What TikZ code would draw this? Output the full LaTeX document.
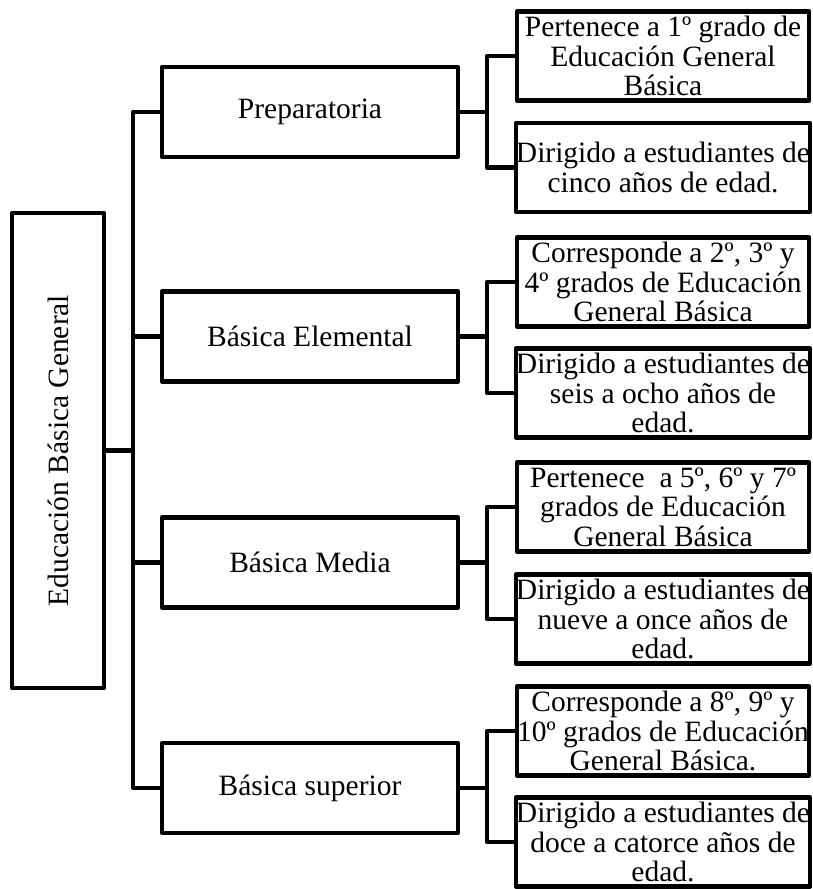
\documentclass[tikz,border=0pt]{standalone}
\usepackage{fontspec}
\setmainfont{Liberation Serif}
\begin{document}
\begin{tikzpicture}[x=1pt,y=-1pt,
  box/.style={draw=black, line width=4.5pt, line join=round, inner sep=0pt, align=center,
    font=\fontsize{29.5}{29.5}\selectfont},
  lvl/.style={box, minimum width=296, minimum height=90},
  leaf/.style={box, minimum width=292, minimum height=89},
  conn/.style={draw=black, line width=4.5pt, line join=round}]
\useasboundingbox (0,0) rectangle (813,889);
% root
\node[box, minimum width=92, minimum height=475] (root) at (58,450.5) {\rotatebox{90}{Educación Básica General}};
% level 2
\node[lvl] (prep) at (310,112) {Preparatoria};
\node[lvl] (elem) at (310,336.5) {Básica Elemental};
\node[lvl] (media) at (310,562.5) {Básica Media};
\node[lvl] (sup) at (310,788) {Básica superior};
% leaves
\node[leaf] (p1) at (663,56) {Pertenece a 1º grado de\\Educación General\\Básica};
\node[leaf] (p2) at (663,167.5) {Dirigido a estudiantes de\\cinco años de edad.};
\node[leaf] (e1) at (663,282) {Corresponde a 2º, 3º y\\4º grados de Educación\\General Básica};
\node[leaf] (e2) at (663,393) {Dirigido a estudiantes de\\seis a ocho años de\\edad.};
\node[leaf] (m1) at (663,507) {Pertenece\ \ a 5º, 6º y 7º\\grados de Educación\\General Básica};
\node[leaf] (m2) at (663,619) {Dirigido a estudiantes de\\nueve a once años de\\edad.};
\node[leaf] (s1) at (663,731) {Corresponde a 8º, 9º y\\10º grados de Educación\\General Básica.};
\node[leaf] (s2) at (663,842) {Dirigido a estudiantes de\\doce a catorce años de\\edad.};
% junctions
\coordinate (t) at (133,450.5);
\coordinate (jp) at (487,112);
\coordinate (je) at (487,336.5);
\coordinate (jm) at (487,562.5);
\coordinate (js) at (487,788);
% trunk connectors
\draw[conn] (root.east) -- (t);
\draw[conn] (prep.west) -| (t);
\draw[conn] (sup.west) -| (t);
\draw[conn] (elem.west) -- (elem.west -| t);
\draw[conn] (media.west) -- (media.west -| t);
% group connectors
\draw[conn] (prep.east) -- (jp);
\draw[conn] (p1.west) -| (jp);
\draw[conn] (p2.west) -| (jp);
\draw[conn] (elem.east) -- (je);
\draw[conn] (e1.west) -| (je);
\draw[conn] (e2.west) -| (je);
\draw[conn] (media.east) -- (jm);
\draw[conn] (m1.west) -| (jm);
\draw[conn] (m2.west) -| (jm);
\draw[conn] (sup.east) -- (js);
\draw[conn] (s1.west) -| (js);
\draw[conn] (s2.west) -| (js);
\end{tikzpicture}
\end{document}
